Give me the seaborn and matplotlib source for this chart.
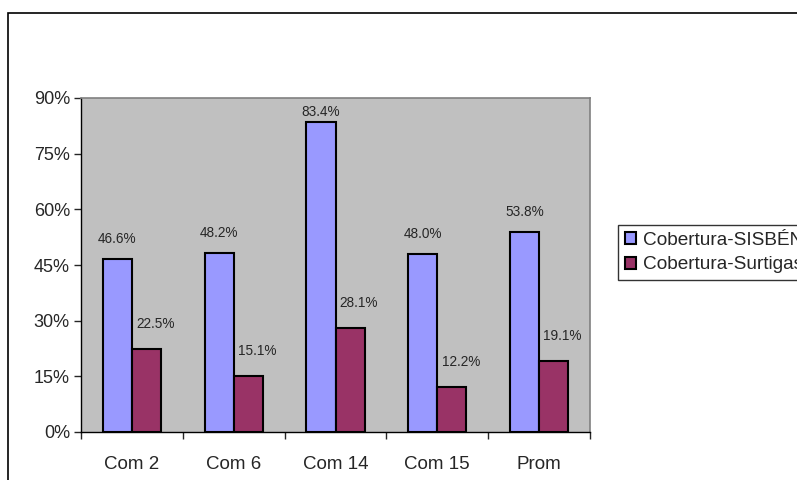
import matplotlib
matplotlib.use("Agg")
import matplotlib.pyplot as plt
import matplotlib.patches as mpatches
import pandas as pd
import seaborn as sns
from matplotlib.ticker import PercentFormatter

categories = ["Com 2", "Com 6", "Com 14", "Com 15", "Prom"]
series = ["Cobertura-SISBÉN", "Cobertura-Surtigas"]
sisben = [0.466, 0.482, 0.834, 0.480, 0.538]
surtigas = [0.225, 0.151, 0.281, 0.122, 0.191]
colors = ["#9999FF", "#993366"]

df = pd.DataFrame({
    "cat": categories * 2,
    "serie": [series[0]] * 5 + [series[1]] * 5,
    "val": sisben + surtigas,
})

sns.set_style("white")
plt.rcParams["font.family"] = ["Liberation Sans", "DejaVu Sans"]

fig = plt.figure(figsize=(7.97, 4.8), dpi=100)
ax = fig.add_axes([81 / 797, 1 - 432 / 480, 509 / 797, 334 / 480])
ax.set_facecolor("#C0C0C0")

sns.barplot(data=df, x="cat", y="val", hue="serie", palette=colors,
            saturation=1, width=0.57, edgecolor="black", linewidth=1.5,
            ax=ax, legend=False)

ax.set_ylim(0, 0.9)
ax.set_xlim(-0.5, 4.5)
ax.set_yticks([0, 0.15, 0.3, 0.45, 0.6, 0.75, 0.9])
ax.yaxis.set_major_formatter(PercentFormatter(1.0, decimals=0))
ax.tick_params(axis="y", labelsize=13, length=5, width=1, direction="out",
               left=True, pad=3)

# x ticks between categories, labels at centres
ax.set_xticks([i - 0.5 for i in range(6)])
ax.set_xticklabels([])
ax.set_xticks(range(5), minor=True)
ax.set_xticklabels(categories, minor=True, fontsize=13.5)
ax.tick_params(axis="x", which="major", length=5, width=1, direction="out",
               bottom=True)
ax.tick_params(axis="x", which="minor", length=0, pad=17)
ax.set_xlabel("")
ax.set_ylabel("")

for s in ["left", "bottom"]:
    ax.spines[s].set_color("black")
    ax.spines[s].set_linewidth(1)
for s in ["top", "right"]:
    ax.spines[s].set_color("#808080")
    ax.spines[s].set_linewidth(1.2)

# data labels
px = 0.9 / 334
for i, v in enumerate(sisben):
    y = min(v + 20 * px, 0.9 - 14 * px)
    ax.text(i - 0.143, y, f"{v * 100:.1f}%", ha="center", va="center",
            fontsize=9.8)
for i, v in enumerate(surtigas):
    y = v + 25 * px
    ax.text(i + 0.23, y, f"{v * 100:.1f}%", ha="center", va="center",
            fontsize=9.8)

handles = [mpatches.Patch(facecolor=c, edgecolor="black", linewidth=1.5)
           for c in colors]
fig.legend(handles, series, loc="upper left",
           bbox_to_anchor=(618 / 797, 1 - 225 / 480), frameon=True,
           fancybox=False, edgecolor="black", fontsize=13.7,
           handlelength=0.6, handleheight=0.6, handletextpad=0.35,
           borderpad=0.35, labelspacing=0.4, borderaxespad=0)

fig.patches.append(mpatches.Rectangle((8 / 797, -0.2), 1.2, 1.2 - 13 / 480,
                                      transform=fig.transFigure,
                                      fill=False, edgecolor="black",
                                      linewidth=1.2))

fig.savefig("out.png", dpi=100)
